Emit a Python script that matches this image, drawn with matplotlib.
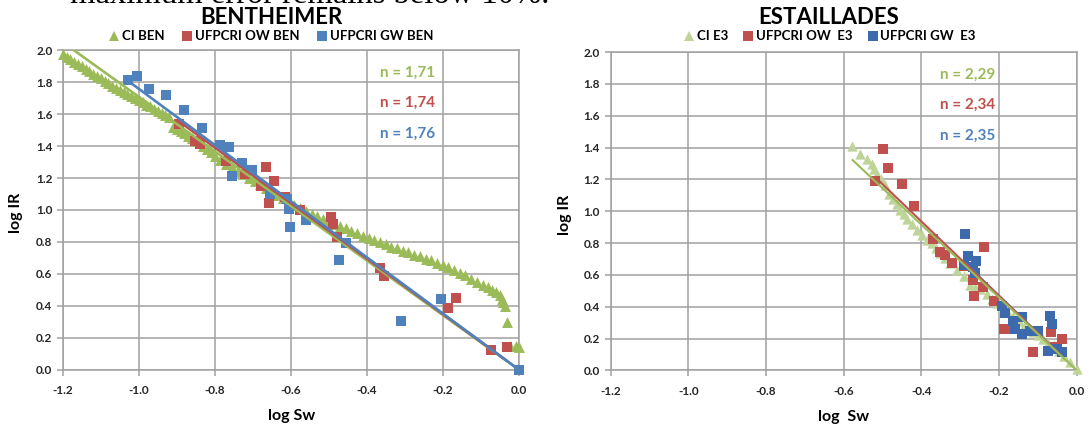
import matplotlib
matplotlib.use("Agg")
import matplotlib.pyplot as plt
from matplotlib.lines import Line2D
from matplotlib.ticker import FormatStrFormatter

plt.rcParams['font.family'] = ['Lato', 'DejaVu Sans']

# ---------------- Bentheimer ----------------
ci_ben_x = [-1.200, -1.190, -1.180, -1.170, -1.160, -1.150, -1.140, -1.130, -1.120, -1.110,
            -1.100, -1.090, -1.080, -1.070, -1.060, -1.050, -1.040, -1.030, -1.020, -1.010,
            -1.000, -0.990, -0.980, -0.970, -0.960, -0.950, -0.940, -0.930, -0.920, -0.910,
            -0.900, -0.890, -0.880, -0.870, -0.860, -0.850, -0.840, -0.830, -0.820, -0.810,
            -0.800, -0.785, -0.770, -0.755, -0.740, -0.725, -0.710, -0.695, -0.680, -0.665,
            -0.650, -0.635, -0.620, -0.605, -0.590, -0.575, -0.560, -0.545, -0.530, -0.515,
            -0.500, -0.485, -0.470, -0.455, -0.440, -0.425, -0.410, -0.395, -0.380, -0.365,
            -0.350, -0.335, -0.320, -0.305, -0.290, -0.275, -0.260, -0.245, -0.230, -0.215,
            -0.200, -0.185, -0.170, -0.155, -0.140, -0.125, -0.110, -0.095, -0.080, -0.070,
            -0.060, -0.050, -0.045, -0.040, -0.036, -0.030, -0.022, -0.008, 0.000]
ci_ben_y = [1.975, 1.960, 1.945, 1.930, 1.915, 1.900, 1.885, 1.870, 1.855, 1.840,
            1.825, 1.810, 1.795, 1.780, 1.765, 1.750, 1.740, 1.725, 1.715, 1.700,
            1.690, 1.675, 1.660, 1.650, 1.635, 1.620, 1.610, 1.595, 1.580, 1.520,
            1.510, 1.495, 1.480, 1.465, 1.450, 1.435, 1.420, 1.400, 1.385, 1.365,
            1.340, 1.315, 1.290, 1.270, 1.245, 1.225, 1.200, 1.180, 1.160, 1.135,
            1.115, 1.095, 1.075, 1.055, 1.030, 1.010, 0.995, 0.975, 0.960, 0.945,
            0.930, 0.915, 0.900, 0.885, 0.870, 0.855, 0.840, 0.825, 0.810, 0.800,
            0.785, 0.770, 0.760, 0.745, 0.735, 0.720, 0.710, 0.695, 0.685, 0.670,
            0.655, 0.640, 0.625, 0.605, 0.590, 0.570, 0.550, 0.530, 0.515, 0.500,
            0.485, 0.465, 0.445, 0.425, 0.400, 0.295, 0.150, 0.150, 0.140]

ow_ben_x = [-0.895, -0.851, -0.838, -0.771, -0.720, -0.666, -0.679, -0.657, -0.644, -0.614,
            -0.575, -0.495, -0.488, -0.478, -0.364, -0.354, -0.185, -0.165, -0.074, -0.030]
ow_ben_y = [1.537, 1.432, 1.415, 1.306, 1.228, 1.268, 1.150, 1.046, 1.180, 1.080,
            0.998, 0.957, 0.915, 0.833, 0.637, 0.586, 0.386, 0.447, 0.124, 0.138]

gw_ben_x = [-1.028, -1.005, -0.972, -0.928, -0.880, -0.833, -0.787, -0.762, -0.755, -0.729,
            -0.701, -0.655, -0.610, -0.604, -0.601, -0.560, -0.455, -0.473, -0.309, -0.204, 0.000]
gw_ben_y = [1.815, 1.842, 1.758, 1.722, 1.625, 1.512, 1.406, 1.396, 1.212, 1.294,
            1.248, 1.098, 1.070, 1.004, 0.895, 0.940, 0.792, 0.685, 0.307, 0.439, 0.000]

n_ben = [1.71, 1.74, 1.76]
labels_ben = ['CI BEN', 'UFPCRI OW BEN', 'UFPCRI GW BEN']

# ---------------- Estaillades ----------------
ci_e3_x = [-0.579, -0.557, -0.540, -0.527, -0.523, -0.514, -0.503, -0.493, -0.484, -0.474,
           -0.463, -0.454, -0.445, -0.437, -0.424, -0.411, -0.398, -0.386, -0.373, -0.362,
           -0.351, -0.338, -0.326, -0.309, -0.291, -0.274, -0.262, -0.249, -0.232, -0.219,
           -0.206, -0.193, -0.180, -0.163, -0.150, -0.137, -0.125, -0.112, -0.099, -0.086,
           -0.073, -0.060, -0.047, -0.034, -0.017, 0.000]
ci_e3_y = [1.410, 1.360, 1.330, 1.296, 1.265, 1.234, 1.200, 1.162, 1.110, 1.080,
           1.048, 1.006, 0.980, 0.954, 0.920, 0.882, 0.850, 0.820, 0.800, 0.770,
           0.737, 0.705, 0.675, 0.633, 0.592, 0.540, 0.525, 0.509, 0.478, 0.450,
           0.426, 0.400, 0.374, 0.343, 0.310, 0.280, 0.260, 0.239, 0.220, 0.198,
           0.175, 0.157, 0.125, 0.094, 0.053, 0.010]

ow_e3_x = [-0.499, -0.486, -0.519, -0.450, -0.420, -0.370, -0.351, -0.339, -0.321, -0.240,
           -0.291, -0.266, -0.242, -0.264, -0.214, -0.187, -0.172, -0.114, -0.067, -0.039, -0.055]
ow_e3_y = [1.390, 1.271, 1.193, 1.172, 1.031, 0.824, 0.747, 0.726, 0.675, 0.774,
           0.654, 0.571, 0.525, 0.467, 0.436, 0.260, 0.260, 0.115, 0.240, 0.198, 0.150]

gw_e3_x = [-0.289, -0.279, -0.260, -0.291, -0.261, -0.268, -0.193, -0.184, -0.163, -0.141,
           -0.159, -0.141, -0.120, -0.099, -0.069, -0.064, -0.073, -0.052, -0.039]
gw_e3_y = [0.855, 0.716, 0.685, 0.664, 0.612, 0.650, 0.405, 0.364, 0.312, 0.333,
           0.260, 0.229, 0.250, 0.250, 0.343, 0.291, 0.125, 0.136, 0.115]

n_e3 = [2.29, 2.34, 2.35]
labels_e3 = ['CI E3', 'UFPCRI OW  E3', 'UFPCRI GW  E3']

x_ticks = [-1.2, -1.0, -0.8, -0.6, -0.4, -0.2, 0.0]
y_ticks = [0.0, 0.2, 0.4, 0.6, 0.8, 1.0, 1.2, 1.4, 1.6, 1.8, 2.0]

GRID = '#a0a0a0'
GREEN = '#9bbb59'
RED = '#c0504d'
BLUE = '#4f81bd'
LIGHT_GREEN = '#bfd498'
DARK_BLUE = '#3d6aad'


def style_axes(ax, xlabel):
    ax.set_xlim(-1.2, 0.0)
    ax.set_ylim(0.0, 2.0)
    ax.set_xticks(x_ticks)
    ax.set_yticks(y_ticks)
    ax.xaxis.set_major_formatter(FormatStrFormatter('%.1f'))
    ax.yaxis.set_major_formatter(FormatStrFormatter('%.1f'))
    ax.grid(True, color=GRID, lw=1.1)
    ax.set_axisbelow(True)
    for s in ax.spines.values():
        s.set_color(GRID)
        s.set_linewidth(1.1)
    ax.tick_params(axis='both', colors=GRID, length=4, width=1.1,
                   labelcolor='#262626', labelsize=8.5)
    ax.tick_params(axis='x', pad=7)
    for lab in ax.get_xticklabels() + ax.get_yticklabels():
        lab.set_fontweight('bold')
    ax.set_xlabel(xlabel, fontsize=11.5, fontweight='bold')
    ax.set_ylabel('log IR', fontsize=11.5, fontweight='bold')


def trend(ax, xs, n, color, lw, z):
    x0, x1 = min(xs), max(xs)
    ax.plot([x0, x1], [-n * x0, -n * x1], color=color, lw=lw, zorder=z,
            solid_capstyle='butt')


fig = plt.figure(figsize=(10.91, 4.26), dpi=100)
ax1 = fig.add_axes([0.0575, 0.1326, 0.4179, 0.7489])
ax2 = fig.add_axes([0.5596, 0.1303, 0.4274, 0.7476])

# Bentheimer panel
style_axes(ax1, 'log Sw')
ax1.scatter(ci_ben_x, ci_ben_y, marker='^', s=62, color=GREEN, lw=0, zorder=3, clip_on=False)
ax1.scatter(ow_ben_x, ow_ben_y, marker='s', s=52, color=RED, lw=0, zorder=4, clip_on=False)
ax1.scatter(gw_ben_x, gw_ben_y, marker='s', s=52, color=BLUE, lw=0, zorder=5, clip_on=False)
trend(ax1, ci_ben_x, n_ben[0], GREEN, 1.9, 6)
trend(ax1, ow_ben_x, n_ben[1], RED, 1.9, 7)
trend(ax1, gw_ben_x, n_ben[2], BLUE, 1.9, 8)
for n, c, y in zip(n_ben, [GREEN, RED, BLUE], [1.86, 1.67, 1.475]):
    ax1.text(-0.365, y, 'n = ' + f'{n:.2f}'.replace('.', ','), color=c,
             fontsize=11, fontweight='bold', va='center', ha='left')
ax1.xaxis.set_label_coords(0.503, -0.125)
ax1.yaxis.set_label_coords(-0.088, 0.49)

# Estaillades panel
style_axes(ax2, 'log  Sw')
ax2.scatter(ci_e3_x, ci_e3_y, marker='^', s=55, color=LIGHT_GREEN, lw=0, zorder=3, clip_on=False)
ax2.scatter(ow_e3_x, ow_e3_y, marker='s', s=42, color=RED, lw=0, zorder=4, clip_on=False)
ax2.scatter(gw_e3_x, gw_e3_y, marker='s', s=42, color=DARK_BLUE, lw=0, zorder=5, clip_on=False)
trend(ax2, gw_e3_x, n_e3[2], BLUE, 1.5, 6)
trend(ax2, ow_e3_x, n_e3[1], RED, 1.5, 7)
trend(ax2, ci_e3_x, n_e3[0], GREEN, 1.5, 8)
for n, c, y in zip(n_e3, [GREEN, RED, BLUE], [1.86, 1.67, 1.475]):
    ax2.text(-0.352, y, 'n = ' + f'{n:.2f}'.replace('.', ','), color=c,
             fontsize=11, fontweight='bold', va='center', ha='left')
ax2.xaxis.set_label_coords(0.5, -0.125)
ax2.yaxis.set_label_coords(-0.083, 0.49)

# Titles and legends
fig.text(271 / 1091, 1 - 18 / 426, 'BENTHEIMER', ha='center', va='center',
         fontsize=16, fontweight='bold')
fig.text(829 / 1091, 1 - 18 / 426, 'ESTAILLADES', ha='center', va='center',
         fontsize=16, fontweight='bold')


def legend_handles(colors, markers):
    return [Line2D([], [], ls='none', marker=m, color=c, markersize=6.5, markeredgewidth=0)
            for c, m in zip(colors, markers)]


fig.legend(legend_handles([GREEN, RED, BLUE], ['^', 's', 's']), labels_ben,
           loc='center', bbox_to_anchor=(271 / 1091, 1 - 36.5 / 426), ncol=3,
           frameon=False, handlelength=0.8, handletextpad=0.2, columnspacing=1.3,
           prop={'weight': 'bold', 'size': 9.5})
fig.legend(legend_handles([LIGHT_GREEN, RED, DARK_BLUE], ['^', 's', 's']), labels_e3,
           loc='center', bbox_to_anchor=(830 / 1091, 1 - 36.5 / 426), ncol=3,
           frameon=False, handlelength=0.8, handletextpad=0.2, columnspacing=1.1,
           prop={'weight': 'bold', 'size': 9.5})

# Line of body text running off the top edge of the page
fig.text(70 / 1091, 1 - 3 / 426, 'maximum error remains below 10%.', ha='left',
         va='baseline', fontsize=23.5, family='Liberation Serif')

fig.savefig('out.png', dpi=100)
